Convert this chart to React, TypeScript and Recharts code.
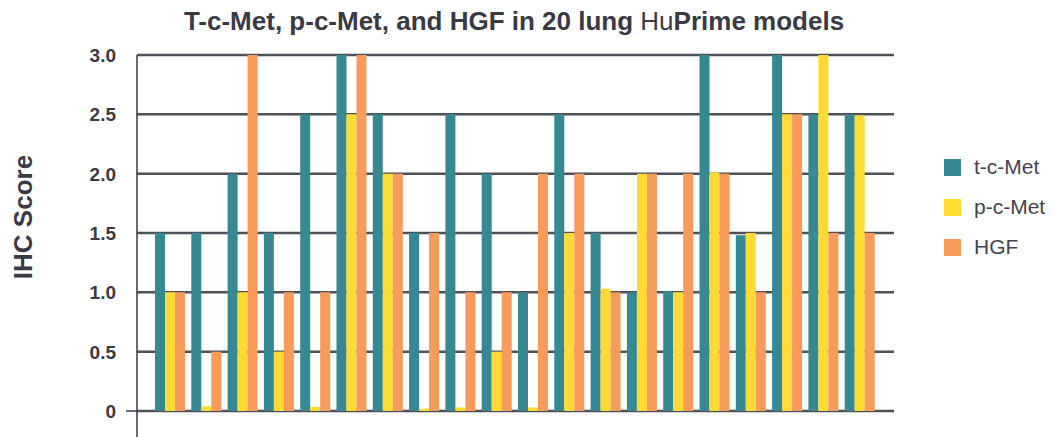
import React from 'react';
import { BarChart, Bar, XAxis, YAxis, CartesianGrid, Legend } from 'recharts';

// 20 lung HuPrime models
const models = ['LU01', 'LU02', 'LU03', 'LU04', 'LU05', 'LU06', 'LU07', 'LU08', 'LU09', 'LU10',
  'LU11', 'LU12', 'LU13', 'LU14', 'LU15', 'LU16', 'LU17', 'LU18', 'LU19', 'LU20'];
const tcMet = [1.5, 1.5, 2.0, 1.5, 2.5, 3.0, 2.5, 1.5, 2.5, 2.0, 1.0, 2.5, 1.5, 1.0, 1.01, 3.0, 1.48, 3.0, 2.5, 2.5];
const pcMet = [1.0, 0.04, 1.0, 0.5, 0.035, 2.5, 2.0, 0.02, 0.03, 0.5, 0.03, 1.5, 1.03, 2.0, 1.0, 2.01, 1.5, 2.5, 3.0, 2.49];
const hgf = [1.0, 0.5, 3.0, 1.0, 1.0, 3.0, 2.0, 1.5, 1.0, 1.0, 2.0, 2.0, 1.0, 2.0, 2.0, 2.0, 1.0, 2.5, 1.5, 1.5];

const yTicks = [0, 0.5, 1, 1.5, 2, 2.5, 3];
const yTickLabels = ['0', '0.5', '1.0', '1.5', '2.0', '2.5', '3.0'];

const seriesNames = ['t-c-Met', 'p-c-Met', 'HGF'];
const seriesColors = ['#368893', '#FEDB34', '#F79B5B'];

const data = models.map((m, i) => ({ model: m, tcMet: tcMet[i], pcMet: pcMet[i], hgf: hgf[i] }));

const FONT = '"Liberation Sans", Arial, Helvetica, sans-serif';
const TEXT = '#3a3a44';
const PLOT_LEFT = 137;
const LEGEND_W = 110;

const YTick = (props: any) => {
  const { y, payload } = props;
  const label = yTickLabels[yTicks.indexOf(payload.value)];
  return (
    <g>
      <text x={116} y={y} dy="0.36em" textAnchor="end" fill={TEXT} fontFamily={FONT} fontWeight="bold" fontSize={19}>
        {label}
      </text>
      {payload.value === 0 && (
        <>
          <line x1={126} x2={PLOT_LEFT} y1={y} y2={y} stroke="#3a3a44" strokeWidth={1.5} />
          <line x1={PLOT_LEFT} x2={PLOT_LEFT} y1={y} y2={y + 30} stroke="#3a3a44" strokeWidth={1.5} />
        </>
      )}
    </g>
  );
};

const LegendBox = () => (
  <div style={{ fontFamily: FONT, fontSize: 21, color: '#44444c' }}>
    {seriesNames.map((name, i) => (
      <div key={name} style={{ display: 'flex', alignItems: 'center', height: 40 }}>
        <span style={{ width: 17, height: 17, background: seriesColors[i], display: 'inline-block', marginRight: 13 }} />
        <span>{name}</span>
      </div>
    ))}
  </div>
);

export default function App() {
  return (
    <div style={{ position: 'absolute', left: 0, top: 0, width: 1055, height: 437, background: '#fff' }}>
      <div
        style={{
          position: 'absolute', left: 6, top: 6, width: 1016, textAlign: 'center',
          fontFamily: FONT, fontSize: 26, fontWeight: 'bold', color: TEXT,
        }}
      >
        T-c-Met, p-c-Met, and HGF in 20 lung <span style={{ fontWeight: 'normal' }}>Hu</span>Prime models
      </div>
      <BarChart
        width={1055}
        height={437}
        data={data}
        margin={{ top: 55, right: 161 - LEGEND_W, bottom: 26, left: 0 }}
        barSize={10}
        barGap={0}
      >
        <CartesianGrid vertical={false} stroke="#4f5159" strokeWidth={2.5} />
        <XAxis dataKey="model" hide padding={{ left: 15, right: 16 }} />
        <YAxis
          width={PLOT_LEFT}
          domain={[0, 3]}
          ticks={yTicks}
          interval={0}
          tickLine={false}
          axisLine={{ stroke: '#3a3a44', strokeWidth: 1.5 }}
          tick={<YTick />}
          label={{
            content: () => (
              <text
                x={32}
                y={217}
                transform="rotate(-90, 32, 217)"
                textAnchor="middle"
                fill={TEXT}
                fontFamily={FONT}
                fontWeight="bold"
                fontSize={26}
              >
                IHC Score
              </text>
            ),
          }}
        />
        <Legend
          layout="vertical"
          align="right"
          verticalAlign="middle"
          content={<LegendBox />}
          wrapperStyle={{ position: 'absolute', left: 944, top: 147, width: LEGEND_W, right: 'auto', bottom: 'auto' }}
        />
        <Bar dataKey="tcMet" name={seriesNames[0]} fill={seriesColors[0]} isAnimationActive={false} />
        <Bar dataKey="pcMet" name={seriesNames[1]} fill={seriesColors[1]} isAnimationActive={false} />
        <Bar dataKey="hgf" name={seriesNames[2]} fill={seriesColors[2]} isAnimationActive={false} />
      </BarChart>
    </div>
  );
}
